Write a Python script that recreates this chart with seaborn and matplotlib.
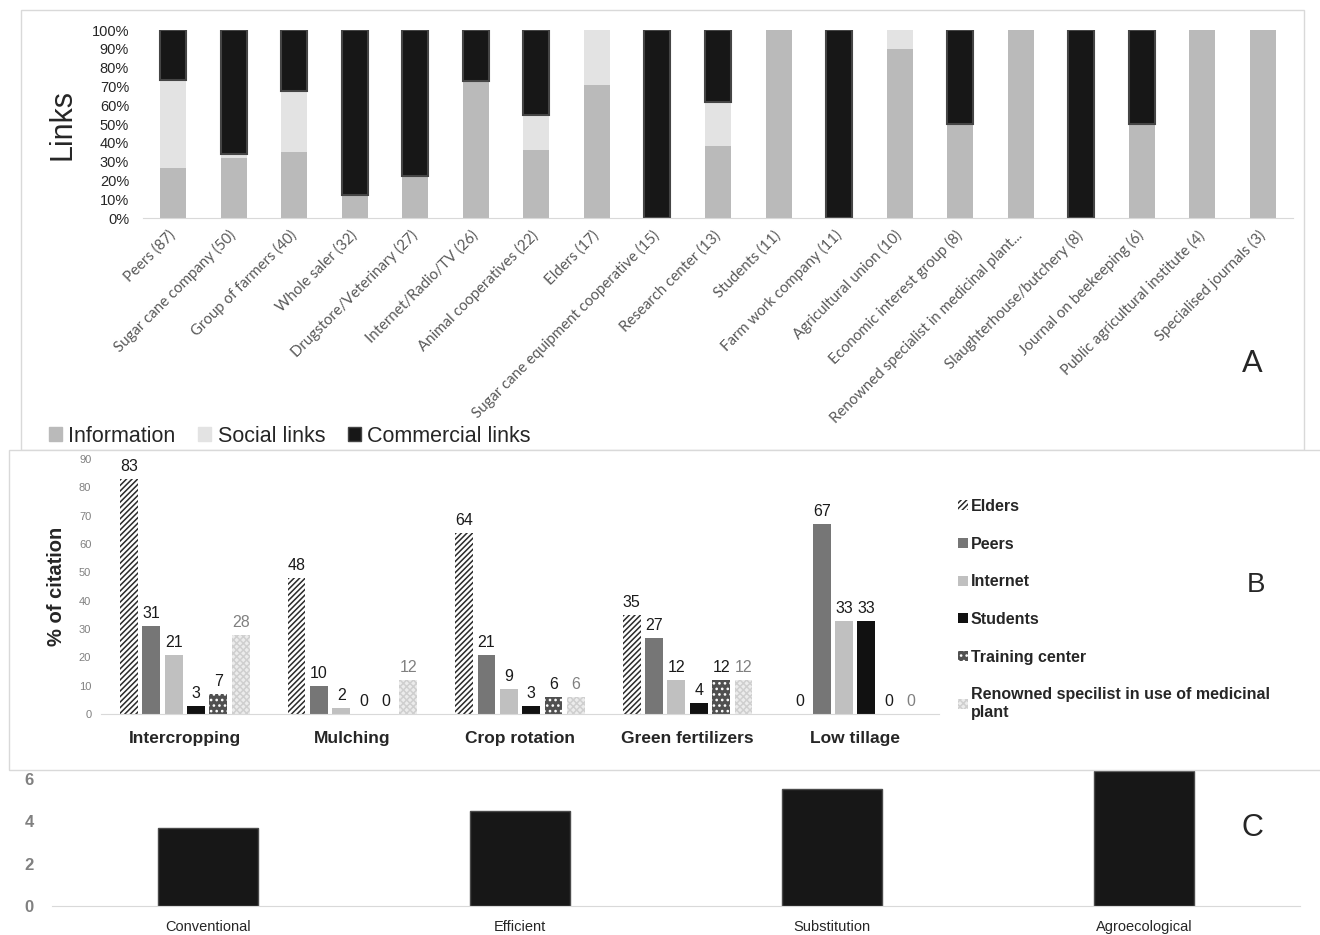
import numpy as np
import pandas as pd
import seaborn as sns
import matplotlib.pyplot as plt
from matplotlib.patches import Patch, Rectangle
from matplotlib.ticker import PercentFormatter

actors = ["Peers (87)", "Sugar cane company (50)", "Group of farmers (40)", "Whole saler (32)",
          "Drugstore/Veterinary (27)", "Internet/Radio/TV (26)", "Animal cooperatives (22)",
          "Elders (17)", "Sugar cane equipment cooperative (15)", "Research center (13)",
          "Students (11)", "Farm work company (11)", "Agricultural union (10)",
          "Economic interest group (8)", "Renowned specialist in medicinal plant...",
          "Slaughterhouse/butchery (8)", "Journal on beekeeping (6)",
          "Public agricultural institute (4)", "Specialised journals (3)"]
info_links = [23, 16, 14, 4, 6, 19, 8, 12, 0, 5, 11, 0, 9, 4, 8, 0, 3, 4, 3]
social_links = [41, 1, 13, 0, 0, 0, 4, 5, 0, 3, 0, 0, 1, 0, 0, 0, 0, 0, 0]
commercial_links = [23, 33, 13, 28, 21, 7, 10, 0, 15, 5, 0, 11, 0, 4, 0, 8, 3, 0, 0]

# ---- Panel B: % of citation per practice and source ----
practices = ["Intercropping", "Mulching", "Crop rotation", "Green fertilizers", "Low tillage"]
sources = ["Elders", "Peers", "Internet", "Students", "Training center",
           "Renowned specilist in use of medicinal\nplant"]
elders = [83, 48, 64, 35, 0]
peers = [31, 10, 21, 27, 67]
internet = [21, 2, 9, 12, 33]
students = [3, 0, 3, 4, 33]
training = [7, 0, 6, 12, 0]
renowned = [28, 12, 6, 12, 0]

# ---- Panel C ----
systems = ["Conventional", "Efficient", "Substitution", "Agroecological"]
system_scores = [3.7, 4.5, 5.55, 6.4]

sns.set_style("white")
plt.rcParams["font.family"] = ["Liberation Sans", "DejaVu Sans"]
plt.rcParams["hatch.linewidth"] = 1.1

W, H = 1320, 935
fig = plt.figure(figsize=(13.2, 9.35), dpi=100)

def box(l, t, r, b):
    return [l / W, 1 - b / H, (r - l) / W, (b - t) / H]

# frames
fig.add_artist(Rectangle((21 / W, 1 - 450 / H), 1283 / W, 440 / H, transform=fig.transFigure,
                         facecolor="none", edgecolor="#d9d9d9", lw=1, zorder=0.5))
fig.add_artist(Rectangle((9 / W, 1 - 770 / H), 1330 / W, 320 / H, transform=fig.transFigure,
                         facecolor="white", edgecolor="#d9d9d9", lw=1, zorder=0.5))

# ================= A =================
axA = fig.add_axes(box(143, 30, 1293, 218), zorder=1)
axA.patch.set_alpha(0)
tot = np.array(info_links) + np.array(social_links) + np.array(commercial_links)
sh_info = np.array(info_links) / tot
sh_soc = np.array(social_links) / tot
sh_com = np.array(commercial_links) / tot
dfA = pd.DataFrame({"actor": actors, "info": sh_info, "soc": sh_soc, "com": sh_com})

sns.barplot(data=dfA, x="actor", y="info", order=actors, color="#bababa",
            width=0.43, linewidth=0, ax=axA)
sns.barplot(data=dfA, x="actor", y="soc", order=actors, color="#e3e3e3",
            width=0.43, linewidth=0, bottom=sh_info, ax=axA)
sns.barplot(data=dfA, x="actor", y="com", order=actors, color="#171717",
            width=0.43, linewidth=1.5, edgecolor="#454545", bottom=sh_info + sh_soc, ax=axA)
for bar, v in zip(axA.containers[2], sh_com):
    if v == 0:
        bar.set_linewidth(0)

axA.set_xlim(-0.5, len(actors) - 0.5)
axA.set_ylim(0, 1)
axA.set_yticks(np.arange(0, 1.01, 0.1))
axA.yaxis.set_major_formatter(PercentFormatter(1.0, decimals=0))
axA.tick_params(axis="y", length=0, pad=10, labelsize=10.5, labelcolor="#262626")
axA.tick_params(axis="x", length=0, pad=11)
axA.set_xticks(range(len(actors)))
axA.set_xticklabels(actors, rotation=45, ha="right", va="center", rotation_mode="anchor",
                    fontsize=10.8, color="#595959", family="Lato")
axA.set_xlabel("")
axA.set_ylabel("Links", fontsize=22, labelpad=10)
sns.despine(ax=axA, left=True)
axA.spines["bottom"].set_color("#d9d9d9")

fig.legend([Patch(color="#bababa"), Patch(color="#e3e3e3"),
            Patch(facecolor="#171717", edgecolor="#454545", lw=1)],
           ["Information", "Social links", "Commercial links"],
           loc="center left", bbox_to_anchor=(49 / W, 1 - 436 / H), ncol=3, frameon=False,
           fontsize=15.5, handlelength=0.6, handleheight=0.6, handletextpad=0.3,
           columnspacing=1.05, borderpad=0, borderaxespad=0)
fig.text(1252 / W, 1 - 363 / H, "A", fontsize=22, family="Lato", ha="center", va="center")

# ================= B =================
axB = fig.add_axes(box(101, 459, 939, 714), zorder=1)
axB.patch.set_alpha(0)
dfB = pd.DataFrame({
    "practice": practices * 6,
    "source": np.repeat(sources, len(practices)),
    "value": elders + peers + internet + students + training + renowned,
})
fills = ["#ffffff", "#767676", "#c0c0c0", "#111111", "#505050", "#ececec"]
hatch_col = ["#2a2a2a", None, None, None, "#ffffff", "#cfcfcf"]
hatches = ["//////", None, None, None, "...", "xxxxx"]
sns.barplot(data=dfB, x="practice", y="value", hue="source", order=practices,
            hue_order=sources, palette=fills, width=0.8, gap=0.2, linewidth=0,
            legend=False, ax=axB)
for i, cont in enumerate(axB.containers):
    for bar in cont:
        if hatches[i]:
            bar.set_hatch(hatches[i])
            bar.set_edgecolor(hatch_col[i])
            bar.set_linewidth(0)
    axB.bar_label(cont, fmt="%d", padding=3.5, fontsize=11.5,
                  color="#808080" if i == 5 else "#1a1a1a")

axB.set_xlim(-0.5, 4.5)
axB.set_ylim(0, 90)
axB.set_yticks(range(0, 91, 10))
axB.tick_params(axis="y", length=0, pad=7, labelsize=8, labelcolor="#808080")
axB.tick_params(axis="x", length=0, pad=12)
for lab in axB.get_xticklabels():
    lab.set_fontweight("bold")
    lab.set_fontsize(12.5)
axB.set_xlabel("")
axB.set_ylabel("% of citation", fontsize=14.5, fontweight="bold", labelpad=9)
sns.despine(ax=axB, left=True)
axB.spines["bottom"].set_color("#d9d9d9")

handlesB = [Patch(facecolor=f, edgecolor=hc if hc else f, hatch=h, lw=0)
            for f, hc, h in zip(fills, hatch_col, hatches)]
fig.legend(handlesB, sources, loc="upper left", bbox_to_anchor=(958 / W, 1 - 499 / H),
           frameon=False, prop={"weight": "bold", "size": 11.5}, handlelength=0.6,
           handleheight=0.6, handletextpad=0.2, labelspacing=1.42, borderpad=0,
           borderaxespad=0)
fig.text(1256 / W, 1 - 585 / H, "B", fontsize=20, ha="center", va="center")

# ================= C =================
axC = fig.add_axes(box(52, 758, 1300, 906), zorder=0)
dfC = pd.DataFrame({"system": systems, "score": system_scores})
sns.barplot(data=dfC, x="system", y="score", order=systems, color="#171717",
            width=0.32, linewidth=1, edgecolor="#4a4a4a", ax=axC)
axC.set_xlim(-0.5, 3.5)
axC.set_ylim(0, 7)
axC.set_yticks([0, 2, 4, 6])
axC.tick_params(axis="y", length=0, pad=13, labelsize=12, labelcolor="#808080")
for lab in axC.get_yticklabels():
    lab.set_fontweight("bold")
axC.tick_params(axis="x", length=0, pad=10, labelsize=10.5)
axC.set_xlabel("")
axC.set_ylabel("")
sns.despine(ax=axC, left=True)
axC.spines["bottom"].set_color("#d9d9d9")
fig.text(1252 / W, 1 - 828 / H, "C", fontsize=22, ha="center", va="center")

fig.savefig("out.png", dpi=100)
